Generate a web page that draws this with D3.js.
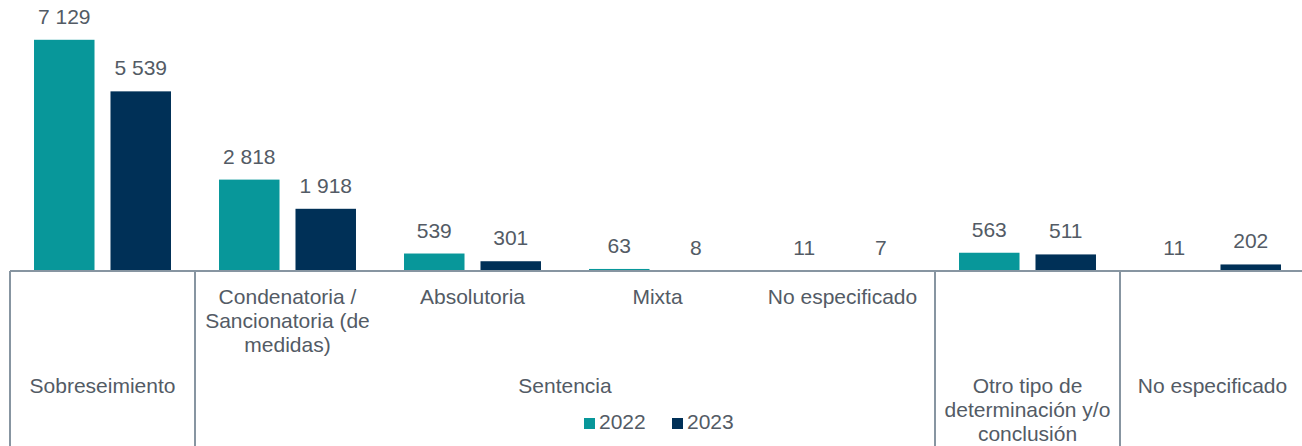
<!DOCTYPE html>
<html>
<head>
<meta charset="utf-8">
<script src="https://cdn.jsdelivr.net/npm/d3@7"></script>
<style>
	body { margin: 0; background: #fff; }
	svg text { font-family: "Liberation Sans", Arial, sans-serif; fill: #535b65; }
	.axis { stroke: #8795a1; stroke-width: 2; }
</style>
</head>
<body>
<div class="container"></div>
<script>

const series = ['2022', '2023'];
// inner level labels; the first and last two groups only have an outer label
const categories = ['', 'Condenatoria /\nSancionatoria (de\nmedidas)', 'Absolutoria', 'Mixta', 'No especificado', '', ''];
const values2022 = [7129, 2818, 539, 63, 11, 563, 11];
const values2023 = [5539, 1918, 301, 8, 7, 511, 202];
const labels2022 = ['7 129', '2 818', '539', '63', '11', '563', '11'];
const labels2023 = ['5 539', '1 918', '301', '8', '7', '511', '202'];

// outer level: label, first group, last group
const outerGroups = [
	{ label: 'Sobreseimiento', from: 0, to: 0 },
	{ label: 'Sentencia', from: 1, to: 4 },
	{ label: 'Otro tipo de\ndeterminación y/o\nconclusión', from: 5, to: 5 },
	{ label: 'No especificado', from: 6, to: 6 }
];

const colors = { '2022': '#08979a', '2023': '#003057' };

const width = 1302, height = 446;
const baseline = 271;

const svg = d3.select('.container')
	.append('svg')
		.attr('width', width)
		.attr('height', height);

const x0 = d3.scaleBand()
	.domain(d3.range(categories.length))
	.range([10, 1305]);

const x1 = d3.scaleBand()
	.domain(series)
	.range([0, x0.bandwidth()])
	.paddingInner(0.209)
	.paddingOuter(0.314);

const y = d3.scaleLinear()
	.domain([0, 7400])
	.range([baseline, 31]);

const rows = categories.map((cat, i) => ({
	index: i,
	bars: [
		{ key: '2022', value: values2022[i], label: labels2022[i] },
		{ key: '2023', value: values2023[i], label: labels2023[i] }
	]
}));

const groups = svg.selectAll('g.group')
	.data(rows)
		.enter()
	.append('g')
		.attr('class', 'group')
		.attr('transform', (d) => `translate(${ x0(d.index) }, 0)`);

groups.selectAll('rect')
	.data((d) => d.bars)
		.enter()
	.append('rect')
		.attr('x', (b) => x1(b.key))
		.attr('width', x1.bandwidth())
		.attr('y', (b) => y(b.value))
		.attr('height', (b) => baseline - y(b.value))
		.attr('fill', (b) => colors[b.key]);

groups.selectAll('text.value')
	.data((d) => d.bars)
		.enter()
	.append('text')
		.attr('class', 'value')
		.attr('x', (b) => x1(b.key) + x1.bandwidth() / 2)
		.attr('y', (b) => y(b.value) - 16)
		.attr('text-anchor', 'middle')
		.style('font-size', '21px')
		.text((b) => b.label);

// axis line and separators
svg.append('line')
	.attr('class', 'axis')
	.attr('x1', 10).attr('x2', width)
	.attr('y1', baseline).attr('y2', baseline);

svg.selectAll('line.sep')
	.data(outerGroups)
		.enter()
	.append('line')
		.attr('class', 'axis sep')
		.attr('x1', (g) => x0(g.from)).attr('x2', (g) => x0(g.from))
		.attr('y1', baseline).attr('y2', height);

function multiLine(sel, text, cx, firstBaseline) {
	const t = sel.append('text')
		.attr('text-anchor', 'middle')
		.style('font-size', '21px');
	text.split('\n').forEach((line, k) => {
		t.append('tspan')
			.attr('x', cx)
			.attr('y', firstBaseline + k * 24)
			.text(line);
	});
}

// inner level labels
rows.forEach((d) => {
	if (categories[d.index]) {
		multiLine(svg, categories[d.index], x0(d.index) + x0.bandwidth() / 2, 304);
	}
});

// outer level labels
outerGroups.forEach((g) => {
	const cx = (x0(g.from) + x0(g.to) + x0.bandwidth()) / 2;
	multiLine(svg, g.label, cx, 393);
});

// legend
const legend = svg.append('g')
	.attr('transform', 'translate(584, 418)');

const items = legend.selectAll('g')
	.data(series)
		.enter()
	.append('g')
		.attr('transform', (s, i) => `translate(${ i * 88 }, 0)`);

items.append('rect')
	.attr('width', 11)
	.attr('height', 11)
	.attr('fill', (s) => colors[s]);

items.append('text')
	.attr('x', 15)
	.attr('y', 11)
	.style('font-size', '21px')
	.text((s) => s);

</script>
</body>
</html>
